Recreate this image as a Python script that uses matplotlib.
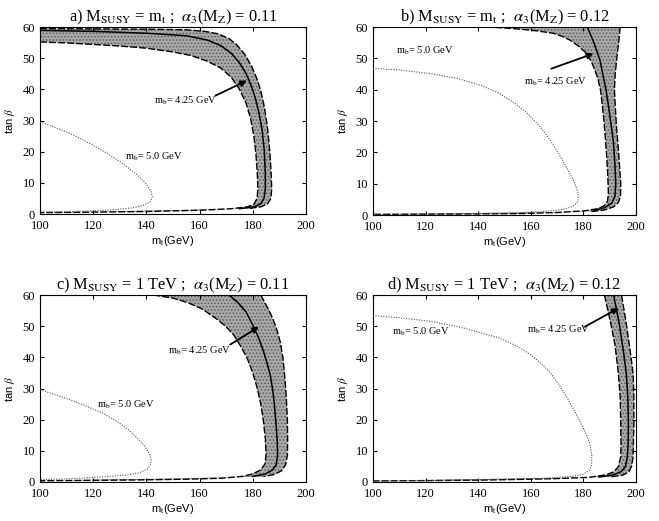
import matplotlib.pyplot as plt

plt.rcParams['font.family'] = ['Liberation Serif', 'DejaVu Serif']
plt.rcParams['mathtext.fontset'] = 'stix'
plt.rcParams['hatch.linewidth'] = 0.7

# panel a: M_SUSY = m_t, alpha_3 = 0.11
a_in_x = [100, 110, 120, 130, 140, 150, 157, 163, 168, 172, 175, 177.5, 179.2, 180.4, 181.2, 181.7, 181.9,
          181.6, 180.5, 178, 172, 160, 140, 120, 100]
a_in_y = [55.2, 54.9, 54.4, 53.9, 53.2, 52.0, 50.8, 49.0, 46.8, 43.8, 40.0, 35.5, 30.5, 25.0, 19.0, 13.0, 8.0,
          5.0, 3.2, 2.3, 1.7, 1.2, 0.8, 0.6, 0.45]
a_out_x = [100, 120, 140, 155, 162, 167, 171, 174, 177, 179.5, 181.5, 183, 184.3, 185.5, 186.4, 186.9, 187.1,
           186.8, 185.5, 183, 178]
a_out_y = [59.5, 59.4, 59.3, 59.1, 58.6, 57.8, 56.3, 54.3, 51.2, 47.5, 43.5, 39.5, 34.5, 28.0, 20.0, 13.0, 8.0,
           5.0, 3.2, 2.3, 1.7]
a_mid_x = [100, 120, 140, 155, 163, 168, 172, 175, 177.5, 179.5, 181, 182.3, 183.5, 184.3, 184.7, 184.7,
           184.2, 183, 180.5, 175]
a_mid_y = [58.9, 58.6, 58.0, 57.2, 55.8, 54.0, 51.5, 48.5, 45.0, 41.0, 37.0, 32.5, 27.0, 20.5, 13.0, 8.0,
           5.0, 3.3, 2.3, 1.7]
a_dot_x = [100, 105, 110, 115, 120, 125, 130, 134, 137.5, 140, 141.7, 142.2, 141.5, 139.5, 135, 128, 120, 110, 100]
a_dot_y = [29.5, 28.0, 26.3, 24.3, 22.0, 19.6, 16.8, 14.3, 11.8, 9.6, 7.3, 5.5, 4.0, 3.0, 2.0, 1.4, 1.0, 0.75, 0.6]

# panel b: M_SUSY = m_t, alpha_3 = 0.12
b_in_x = [143, 150, 156, 162, 168.6, 172, 174.9, 178, 181.2, 183, 184.4, 185.5, 186.5, 187.2, 187.8, 188.4,
          188.9, 189.3, 189.5, 189.2, 188, 185.5, 180, 170, 155, 130, 100]
b_in_y = [60.0, 59.7, 59.3, 58.8, 58.0, 57.0, 55.8, 54.0, 51.6, 49.0, 46.2, 43.5, 40.0, 35.0, 30.0, 24.0,
          18.0, 12.0, 7.0, 4.5, 3.0, 2.0, 1.3, 0.8, 0.45, 0.3, 0.2]
b_out_x = [194, 193.4, 192.7, 192.1, 191.8, 192.1, 192.6, 193.2, 193.8, 194.2, 194.1, 193.3, 191.5, 188, 183]
b_out_y = [60.0, 55.0, 50.0, 45.0, 40.0, 35.0, 28.0, 22.0, 15.0, 10.0, 6.0, 4.0, 2.6, 1.6, 1.1]
b_mid_x = [181.5, 184, 186.3, 187.6, 188.6, 189.5, 190.5, 191.4, 192, 192.3, 192, 190.8, 188, 184]
b_mid_y = [60.0, 55.0, 49.4, 44.0, 40.0, 35.0, 29.0, 23.5, 16.0, 10.0, 6.0, 3.8, 2.3, 1.5]
b_dot_x = [100, 110, 122, 132, 141, 148, 154, 159, 163.5, 167.5, 171, 174, 176.5, 177.8, 178.1, 177.8,
           176.5, 174, 170, 163.5, 150, 130, 100]
b_dot_y = [46.8, 46.3, 45.1, 43.6, 41.4, 38.8, 35.6, 32.2, 28.2, 23.7, 19.0, 14.6, 10.6, 7.6, 5.6, 4.2,
           3.0, 2.2, 1.5, 1.0, 0.6, 0.35, 0.2]

# panel c: M_SUSY = 1 TeV, alpha_3 = 0.11
c_in_x = [142.6, 150, 155.4, 161, 166.6, 170, 173, 175.5, 178, 180, 181.7, 183, 184, 184.7, 185, 184.6,
          183, 180, 176, 168, 155, 135, 100]
c_in_y = [60.0, 59.0, 57.6, 55.5, 52.2, 49.8, 47.0, 43.5, 39.5, 35.0, 30.0, 25.0, 19.5, 14.0, 9.0, 5.8,
          3.9, 2.6, 1.8, 1.2, 0.9, 0.65, 0.4]
c_out_x = [183, 185.5, 187.5, 189, 190.3, 191.3, 192, 192.6, 193, 193.1, 193, 192.3, 190.8, 188, 184]
c_out_y = [60.0, 56.0, 52.5, 49.0, 45.0, 40.0, 34.0, 27.0, 20.0, 13.0, 8.5, 5.5, 3.6, 2.4, 1.7]
c_mid_x = [171, 174.5, 177.5, 180.2, 182.3, 184, 185.4, 186.5, 187.4, 188.1, 188.7, 189.2, 189.3, 188.8,
           187.3, 184.5, 180]
c_mid_y = [60.0, 57.5, 54.5, 50.0, 46.0, 42.0, 38.0, 34.5, 30.0, 25.0, 19.0, 13.0, 8.5, 5.5,
           3.8, 2.5, 1.8]
c_dot_x = [100, 105, 110.9, 117, 123.3, 128.5, 133.2, 136.5, 139.4, 141.2, 141.8, 141.5, 140.3, 137.5,
           133.2, 125, 117, 108, 100]
c_dot_y = [29.7, 28.2, 26.5, 24.5, 22.2, 19.7, 16.8, 14.2, 11.5, 9.0, 7.2, 5.5, 4.2, 3.0,
           2.3, 1.7, 1.3, 0.95, 0.75]

# panel d: M_SUSY = 1 TeV, alpha_3 = 0.12
d_in_x = [188, 190.4, 192, 193.3, 194, 194.2, 194.3, 194.2, 193.3, 191.7, 188.5, 182.2, 170, 160, 140, 120, 100]
d_in_y = [60.0, 50.9, 44.0, 34.9, 27.0, 18.8, 12.0, 8.1, 5.0, 3.3, 2.3, 1.5, 1.1, 0.9, 0.6, 0.45, 0.35]
d_out_x = [194.5, 196.3, 197.8, 198.9, 199.2, 199.2, 199, 198.9, 198.3, 197.3, 195, 190]
d_out_y = [60.0, 50.9, 42.0, 34.9, 27.0, 18.8, 12.0, 8.1, 5.0, 3.3, 2.2, 1.6]
d_mid_x = [191.5, 193.6, 195.2, 196.3, 196.9, 197.1, 197, 196.7, 196, 194.5, 191.5, 186]
d_mid_y = [60.0, 50.9, 42.0, 34.9, 27.0, 18.8, 12.0, 8.1, 5.0, 3.4, 2.3, 1.6]
d_dot_x = [100, 110, 122.4, 135, 147.7, 155, 160, 164, 167.5, 170.5, 173.5, 176.5, 179, 181, 182.5,
           183.2, 183.1, 182.3, 180, 175.9, 165, 147.7, 125, 100]
d_dot_y = [53.4, 52.7, 51.5, 49.3, 46.3, 43.5, 40.8, 38.0, 35.0, 31.5, 27.5, 23.0, 19.0, 15.5, 12.0,
           8.5, 5.5, 3.8, 2.5, 1.8, 1.2, 0.9, 0.5, 0.3]

titles = [r'a) M$_{\rm SUSY}$ = m$_{\rm t}$ ;  $\alpha_3$(M$_{\rm Z}$) = 0.11',
          r'b) M$_{\rm SUSY}$ = m$_{\rm t}$ ;  $\alpha_3$(M$_{\rm Z}$) = 0.12',
          r'c) M$_{\rm SUSY}$ = 1 TeV ;  $\alpha_3$(M$_{\rm Z}$) = 0.11',
          r'd) M$_{\rm SUSY}$ = 1 TeV ;  $\alpha_3$(M$_{\rm Z}$) = 0.12']

# label positions (data coords): text 4.25, arrow tail, arrow head, text 5.0
lab425 = [(142.7, 36.4), (157.4, 42.5), (148.0, 42.0), (158.4, 48.7)]
tail425 = [(166.0, 38.0), (167.8, 46.7), (171.5, 44.1), (180.5, 49.8)]
head425 = [(177.8, 42.8), (183.8, 51.5), (182.3, 49.8), (193.4, 55.8)]
lab50 = [(131.9, 18.4), (108.8, 52.5), (121.4, 24.9), (107.3, 48.2)]

panels = [
    (a_in_x, a_in_y, a_out_x, a_out_y, a_mid_x, a_mid_y, a_dot_x, a_dot_y),
    (b_in_x, b_in_y, b_out_x, b_out_y, b_mid_x, b_mid_y, b_dot_x, b_dot_y),
    (c_in_x, c_in_y, c_out_x, c_out_y, c_mid_x, c_mid_y, c_dot_x, c_dot_y),
    (d_in_x, d_in_y, d_out_x, d_out_y, d_mid_x, d_mid_y, d_dot_x, d_dot_y),
]

W, H = 659, 521
rects = [[40/W, 1-214/H, 266/W, 187/H],
         [373/W, 1-215/H, 263/W, 188/H],
         [40/W, 1-482/H, 266/W, 187/H],
         [373/W, 1-482/H, 263/W, 187/H]]

fig = plt.figure(figsize=(6.59, 5.21), dpi=100)
for i, (inx, iny, outx, outy, midx, midy, dx, dy) in enumerate(panels):
    ax = fig.add_axes(rects[i])
    # shaded band: outer curve, then inner curve back
    px = list(outx) + list(inx)[::-1]
    py = list(outy) + list(iny)[::-1]
    ax.fill(px, py, facecolor='#a9a9a9', edgecolor='#5c5c5c', lw=0, hatch='.....', zorder=1)
    ax.plot(inx, iny, color='black', lw=1.0, ls=(0, (5, 1.5)), zorder=3)
    ax.plot(outx, outy, color='black', lw=1.0, ls=(0, (5, 1.5)), zorder=3)
    ax.plot(midx, midy, color='black', lw=1.1, zorder=3)
    ax.plot(dx, dy, color='#555555', lw=0.8, ls=(0, (1, 1.3)), zorder=3)

    ax.annotate('', xy=head425[i], xytext=tail425[i],
                arrowprops=dict(arrowstyle='-|>', color='black', lw=1.3,
                                mutation_scale=9, shrinkA=0, shrinkB=0), zorder=4)
    ax.text(lab425[i][0], lab425[i][1], r'm$_{\rm b}$= 4.25 GeV', fontsize=7.5,
            va='center', zorder=5)
    ax.text(lab50[i][0], lab50[i][1], r'm$_{\rm b}$= 5.0 GeV', fontsize=7.5,
            va='center', zorder=5)

    ax.set_xlim(100, 200)
    ax.set_ylim(0, 60)
    ax.set_xticks([100, 120, 140, 160, 180, 200])
    ax.set_yticks([0, 10, 20, 30, 40, 50, 60])
    ax.tick_params(direction='in', top=True, right=True, labelsize=9, length=3)
    ax.tick_params(axis='x', pad=4.5)
    ax.set_xlabel(r'm$_{\rm t}$(GeV)', family='Liberation Sans', fontsize=8, labelpad=1)
    ax.set_ylabel(r'tan $\beta$', family='Liberation Sans', fontsize=8, labelpad=4)
    ax.set_title(titles[i], fontsize=11.8, pad=4)

fig.savefig('out.png', dpi=100)
